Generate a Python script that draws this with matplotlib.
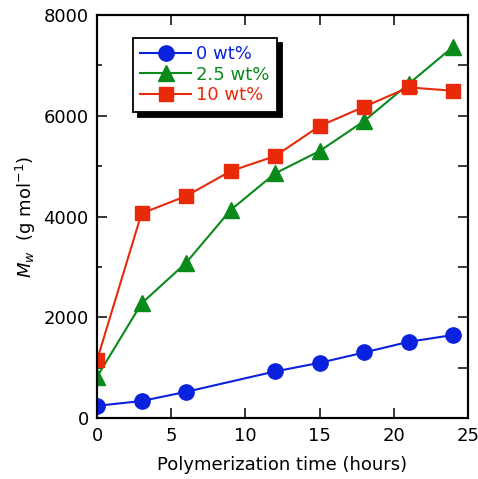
import matplotlib
matplotlib.use("Agg")
from matplotlib import pyplot as plt
from matplotlib.ticker import MultipleLocator, NullFormatter
import numpy as np

# polymerization time (hours)
time_blue = [0, 3, 6, 12, 15, 18, 21, 24]
time_all = [0, 3, 6, 9, 12, 15, 18, 21, 24]

# Mw (g/mol)
mw_0wt = [245, 340, 522, 927, 1097, 1303, 1514, 1650]
mw_25wt = [820, 2276, 3081, 4127, 4855, 5298, 5893, 6630, 7367]
mw_10wt = [1151, 4061, 4405, 4900, 5198, 5794, 6177, 6561, 6494]

labels = ["0 wt%", "2.5 wt%", "10 wt%"]
colors = ["#0a22dd", "#0a8a1a", "#e82a0a"]

plt.rcParams["font.family"] = "DejaVu Sans"

fig = plt.figure(figsize=(4.78, 4.79), dpi=100)
ax = fig.add_axes([0.203, 0.127, 0.776, 0.842])

ax.plot(time_blue, mw_0wt, "-o", color=colors[0], markersize=11, lw=1.5, label=labels[0])
ax.plot(time_all, mw_25wt, "-^", color=colors[1], markersize=11, lw=1.5, label=labels[1])
ax.plot(time_all, mw_10wt, "-s", color=colors[2], markersize=10, lw=1.5, label=labels[2])

ax.set_xlim(0, 25)
ax.set_ylim(0, 8000)
ax.xaxis.set_major_locator(MultipleLocator(5))
ax.yaxis.set_major_locator(MultipleLocator(2000))
ax.yaxis.set_minor_locator(MultipleLocator(1000))
ax.tick_params(which="major", direction="in", top=True, right=False,
               length=7, width=1.1, labelsize=13, pad=6)
ax.tick_params(which="minor", direction="in", right=False, length=3.5, width=1.1)
for s in ax.spines.values():
    s.set_linewidth(1.5)

# right side: every 1000 with full length ticks
rax = ax.twinx()
rax.set_ylim(0, 8000)
rax.yaxis.set_major_locator(MultipleLocator(1000))
rax.yaxis.set_major_formatter(NullFormatter())
rax.tick_params(direction="in", length=7, width=1.1)
for s in rax.spines.values():
    s.set_linewidth(1.5)

ax.set_xlabel("Polymerization time (hours)", fontsize=13, labelpad=8)
ax.set_ylabel("$M_w$  (g mol$^{-1}$)", fontsize=13, labelpad=4)

leg = ax.legend(loc="upper left", bbox_to_anchor=(0.097, 0.943), borderaxespad=0,
                fancybox=False, framealpha=1, edgecolor="black", fontsize=13,
                handlelength=2.8, handletextpad=0.3, borderpad=0.4, labelspacing=0.15,
                shadow={"color": "black", "alpha": 1, "ox": 3.5, "oy": -3.5})
leg.get_frame().set_linewidth(1.3)
for t, c in zip(leg.get_texts(), colors):
    t.set_color(c)

fig.savefig("out.png", dpi=100)
